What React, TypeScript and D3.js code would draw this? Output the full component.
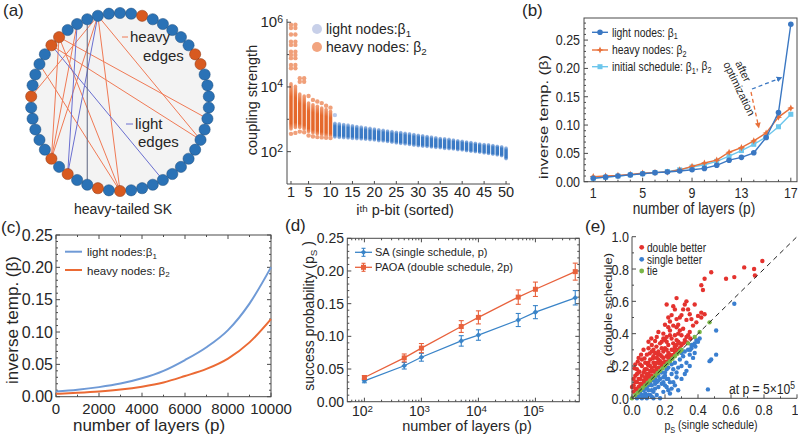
import React from "react";
import * as d3 from "d3";

const FONT = "'Liberation Sans', Arial, Helvetica, sans-serif";
const INK = "#262626";
const AXIS = "#4a4a4a";

// ---------- (a) heavy-tailed SK graph ----------
const NODE_COUNT = 50;
const heavyNodes = [2, 8, 9, 25, 27, 30, 32, 38, 43, 44];
const heavyEdges: [number, number][] = [
  [48, 38], [48, 32], [48, 25], [48, 16], [44, 32], [44, 25], [44, 14], [43, 16], [41, 25], [46, 32],
];
const lightEdges: [number, number][] = [[46, 30], [48, 30], [43, 21]];
const neutralEdges: [number, number][] = [[47, 28]];

// ---------- (a) coupling strength per p-bit (log10 of coupling) ----------
const lightPbits = [11, 12, 13, 14, 15, 16, 17, 18, 19, 20, 21, 22, 23, 24, 25, 26, 27, 28, 29, 30,
  31, 32, 33, 34, 35, 36, 37, 38, 39, 40, 41, 42, 43, 44, 45, 46, 47, 48, 49, 50];
const lightUpper = [2.88, 2.86, 2.84, 2.82, 2.80, 2.78, 2.76, 2.74, 2.72, 2.70, 2.68, 2.66, 2.64, 2.62, 2.60,
  2.59, 2.57, 2.55, 2.53, 2.51, 2.49, 2.47, 2.45, 2.43, 2.41, 2.40, 2.38, 2.36, 2.34, 2.32,
  2.30, 2.28, 2.26, 2.24, 2.22, 2.21, 2.19, 2.17, 2.15, 2.11];
const lightLower = [2.45, 2.44, 2.43, 2.42, 2.41, 2.40, 2.39, 2.38, 2.37, 2.36, 2.34, 2.33, 2.31, 2.29, 2.27,
  2.25, 2.24, 2.22, 2.20, 2.18, 2.17, 2.16, 2.14, 2.13, 2.12, 2.10, 2.09, 2.08, 2.06, 2.05,
  2.03, 2.01, 2.00, 1.98, 1.96, 1.94, 1.92, 1.90, 1.87, 1.78];
const lightOutliers: [number, number][] = [[11, 3.13]];
const heavyPbits = [1, 2, 3, 4, 5, 6, 7, 8, 9, 10];
const heavyUpper = [4.10, 4.02, 3.78, 3.72, 3.50, 3.45, 3.40, 3.35, 3.30, 3.25];
const heavyLower = [2.70, 2.75, 2.75, 2.70, 2.62, 2.58, 2.55, 2.52, 2.50, 2.48];
const heavyOutliers: number[][] = [
  [5.92, 5.82, 5.62, 5.40, 5.30, 5.09, 4.99, 4.89, 4.68, 4.58, 2.55],
  [5.92, 5.82, 5.62, 5.40, 5.30, 5.09, 4.99, 4.89, 4.68, 4.58, 2.58],
  [4.27, 4.16, 2.62],
  [4.27, 4.16, 2.60],
  [3.72, 2.50],
  [3.60, 2.47],
  [3.55, 2.45],
  [3.50, 2.44],
  [3.42, 2.43],
  [3.36, 2.42],
];

// ---------- (b) optimized schedules ----------
const layersB = [1, 2, 3, 4, 5, 6, 7, 8, 9, 10, 11, 12, 13, 14, 15, 16, 17];
const beta1Opt = [0.006, 0.008, 0.010, 0.012, 0.014, 0.016, 0.017, 0.019, 0.021, 0.0235, 0.029, 0.038, 0.043, 0.051, 0.078, 0.122, 0.278];
const beta2Opt = [0.009, 0.010, 0.011, 0.013, 0.015, 0.016, 0.017, 0.021, 0.027, 0.033, 0.038, 0.052, 0.060, 0.072, 0.086, 0.114, 0.130];
const betaInit = [0.006, 0.008, 0.010, 0.012, 0.014, 0.016, 0.018, 0.021, 0.026, 0.030, 0.036, 0.045, 0.055, 0.066, 0.079, 0.097, 0.119];

// ---------- (c) extended schedules ----------
const layersC = [0, 1000, 2000, 3000, 4000, 5000, 6000, 7000, 8000, 9000, 10000];
const beta1Ext = [0.008, 0.0108, 0.0148, 0.0203, 0.0284, 0.040, 0.0567, 0.0765, 0.103, 0.144, 0.200];
const beta2Ext = [0.0045, 0.006, 0.008, 0.011, 0.0155, 0.022, 0.032, 0.043, 0.059, 0.084, 0.120];

// ---------- (d) success probability ----------
const layersD = [100, 500, 1000, 5000, 10000, 50000, 100000, 500000];
const saMean = [0.032, 0.055, 0.068, 0.093, 0.102, 0.125, 0.137, 0.159];
const saErr = [0.003, 0.005, 0.006, 0.008, 0.008, 0.010, 0.010, 0.011];
const paoaMean = [0.037, 0.067, 0.082, 0.115, 0.129, 0.160, 0.172, 0.199];
const paoaErr = [0.003, 0.006, 0.007, 0.009, 0.010, 0.011, 0.011, 0.013];

// ---------- (e) per-instance comparison ----------
const doubleBetter: [number, number][] = [
  [0.79, 0.85], [0.74, 0.80], [0.68, 0.81], [0.745, 0.76], [0.62, 0.75], [0.57, 0.74], [0.48, 0.78], [0.44, 0.74], [0.42, 0.70], [0.43, 0.67],
  [0.27, 0.62], [0.21, 0.58], [0.32, 0.58], [0.38, 0.58], [0.42, 0.53], [0.42, 0.50], [0.35, 0.52], [0.33, 0.485], [0.31, 0.55], [0.30, 0.515],
  [0.28, 0.455], [0.26, 0.55], [0.24, 0.515], [0.23, 0.475], [0.20, 0.455], [0.29, 0.50], [0.36, 0.49], [0.39, 0.47], [0.37, 0.45], [0.25, 0.57],
  [0.33, 0.60], [0.40, 0.51], [0.44, 0.52], [0.22, 0.50], [0.27, 0.49], [0.34, 0.55],
  [0.29, 0.42], [0.30, 0.39], [0.26, 0.39], [0.24, 0.37], [0.21, 0.38], [0.18, 0.35], [0.14, 0.355], [0.117, 0.37], [0.148, 0.32], [0.18, 0.31],
  [0.22, 0.33], [0.25, 0.34], [0.28, 0.35], [0.32, 0.36], [0.353, 0.37], [0.333, 0.345], [0.19, 0.40], [0.16, 0.41], [0.23, 0.42], [0.27, 0.44],
  [0.20, 0.36], [0.24, 0.30], [0.30, 0.33], [0.26, 0.31], [0.12, 0.33], [0.10, 0.35], [0.15, 0.38], [0.28, 0.40], [0.31, 0.43], [0.35, 0.41],
  [0.22, 0.44], [0.25, 0.45], [0.34, 0.39], [0.13, 0.30], [0.17, 0.34], [0.21, 0.35], [0.27, 0.36], [0.29, 0.34], [0.23, 0.39], [0.19, 0.37],
  [0.055, 0.27], [0.035, 0.227], [0.076, 0.247], [0.107, 0.278], [0.127, 0.247], [0.158, 0.27], [0.19, 0.29], [0.22, 0.28], [0.097, 0.206], [0.138, 0.196],
  [0.168, 0.216], [0.20, 0.227], [0.23, 0.237], [0.25, 0.268], [0.015, 0.186], [0.045, 0.165], [0.076, 0.175], [0.117, 0.165], [0.15, 0.18], [0.18, 0.20],
  [0.21, 0.225], [0.26, 0.29], [0.28, 0.30], [0.24, 0.26], [0.02, 0.14], [0.04, 0.12], [0.06, 0.14], [0.08, 0.13], [0.10, 0.15], [0.12, 0.14],
  [0.14, 0.16], [0.16, 0.19], [0.03, 0.10], [0.05, 0.09], [0.07, 0.11], [0.09, 0.12], [0.01, 0.08], [0.02, 0.06], [0.04, 0.07], [0.06, 0.08],
  [0.00, 0.07], [0.01, 0.04], [0.03, 0.05], [0.05, 0.065], [0.08, 0.10], [0.11, 0.125], [0.13, 0.17], [0.17, 0.23], [0.19, 0.25], [0.21, 0.26],
  [0.06, 0.20], [0.08, 0.22], [0.11, 0.24], [0.13, 0.22], [0.15, 0.25], [0.03, 0.18], [0.05, 0.21], [0.09, 0.27], [0.12, 0.29], [0.07, 0.30],
  [0.10, 0.31], [0.16, 0.29], [0.18, 0.26], [0.14, 0.28], [0.20, 0.31], [0.22, 0.25], [0.26, 0.32], [0.04, 0.25], [0.02, 0.21], [0.09, 0.18],
  [0.11, 0.20], [0.07, 0.16], [0.01, 0.12], [0.03, 0.15], [0.10, 0.13], [0.12, 0.19], [0.14, 0.21], [0.16, 0.24], [0.18, 0.22], [0.05, 0.12],
  [0.07, 0.09], [0.09, 0.15], [0.11, 0.17], [0.13, 0.26], [0.15, 0.22], [0.17, 0.27], [0.19, 0.22], [0.21, 0.30], [0.23, 0.27], [0.25, 0.30],
  [0.27, 0.33], [0.29, 0.31], [0.31, 0.34], [0.33, 0.38], [0.02, 0.10], [0.04, 0.16], [0.06, 0.24], [0.08, 0.18], [0.10, 0.22],
];
const singleBetter: [number, number][] = [
  [0.62, 0.585], [0.51, 0.42], [0.51, 0.27], [0.48, 0.24], [0.47, 0.23], [0.46, 0.055], [0.37, 0.33], [0.36, 0.31], [0.35, 0.27], [0.38, 0.28],
  [0.37, 0.25], [0.33, 0.22], [0.32, 0.15], [0.30, 0.12], [0.27, 0.13], [0.25, 0.18], [0.28, 0.19], [0.29, 0.24], [0.30, 0.28], [0.26, 0.22],
  [0.22, 0.19], [0.20, 0.16], [0.24, 0.15], [0.23, 0.10], [0.21, 0.12], [0.19, 0.13], [0.17, 0.12], [0.15, 0.10], [0.14, 0.06], [0.12, 0.08],
  [0.10, 0.05], [0.09, 0.07], [0.08, 0.03], [0.07, 0.05], [0.06, 0.02], [0.05, 0.03], [0.04, 0.01], [0.11, 0.02], [0.13, 0.04], [0.16, 0.07],
  [0.18, 0.09], [0.20, 0.08], [0.22, 0.05], [0.25, 0.10], [0.19, 0.04], [0.12, 0.01], [0.09, 0.00], [0.06, 0.00], [0.03, 0.00], [0.15, 0.02],
  [0.17, 0.00], [0.14, 0.12], [0.16, 0.14], [0.18, 0.16], [0.11, 0.09], [0.13, 0.11], [0.21, 0.18], [0.24, 0.21], [0.27, 0.16], [0.26, 0.08],
  [0.23, 0.03], [0.28, 0.05], [0.31, 0.26], [0.34, 0.30], [0.36, 0.33], [0.38, 0.34], [0.39, 0.36], [0.40, 0.35], [0.33, 0.17], [0.35, 0.20],
  [0.08, 0.06], [0.10, 0.08], [0.07, 0.01], [0.30, 0.20], [0.32, 0.29], [0.41, 0.37], [0.384, 0.32], [0.353, 0.30], [0.12, 0.05], [0.14, 0.09],
  [0.16, 0.11], [0.19, 0.10], [0.21, 0.07], [0.10, 0.02], [0.08, 0.01], [0.13, 0.00], [0.20, 0.14], [0.22, 0.12], [0.24, 0.06],
];
const tieValues = [0, 0.02, 0.035, 0.05, 0.065, 0.08, 0.095, 0.11, 0.125, 0.14, 0.155, 0.17, 0.185, 0.20, 0.215,
  0.23, 0.245, 0.26, 0.275, 0.29, 0.30, 0.34, 0.38, 0.41, 0.47];

// ---------- small text helpers ----------
const Sub = ({ children }: { children: React.ReactNode }) => (
  <tspan dy="0.32em" fontSize="0.7em">{children}</tspan>
);
const Sup = ({ children }: { children: React.ReactNode }) => (
  <tspan dy="-0.45em" fontSize="0.7em">{children}</tspan>
);

// Text with a horizontal condensation factor (panels b and e use a narrow face)
function SText({ x, y, sx = 1, rot = 0, size, anchor = "start", children }: {
  x: number; y: number; sx?: number; rot?: number; size: number; anchor?: string; children: React.ReactNode;
}) {
  return (
    <text transform={`translate(${x},${y}) scale(${sx},1) rotate(${rot})`} fontSize={size}
      textAnchor={anchor} fill={INK}>{children}</text>
  );
}

function PanelTag({ x, y, t }: { x: number; y: number; t: string }) {
  return <text x={x} y={y} fontSize={17} fill={INK}>{t}</text>;
}

// ---------- (a) graph ----------
function GraphPanel() {
  const cx = 120, cy = 102, R = 89;
  const ang = d3.scaleLinear().domain([0, NODE_COUNT]).range([0, 2 * Math.PI]);
  const pos = (i: number): [number, number] => [cx + R * Math.sin(ang(i)), cy - R * Math.cos(ang(i))];
  const heavySet = new Set(heavyNodes);
  const edge = (e: [number, number], color: string, k: string) => {
    const [a, b] = [pos(e[0]), pos(e[1])];
    return <line key={k} x1={a[0]} y1={a[1]} x2={b[0]} y2={b[1]} stroke={color} strokeWidth={1} />;
  };
  return (
    <g>
      <circle cx={cx} cy={cy} r={R} fill="#f3f3f3" />
      {heavyEdges.map((e, i) => edge(e, "#f07a55", "h" + i))}
      {lightEdges.map((e, i) => edge(e, "#6a6fd0", "l" + i))}
      {neutralEdges.map((e, i) => edge(e, "#5d6580", "n" + i))}
      {d3.range(NODE_COUNT).map((i) => {
        const [x, y] = pos(i);
        const heavy = heavySet.has(i);
        return (
          <circle key={i} cx={x} cy={y} r={5.6} fill={heavy ? "#d85a20" : "#2a72b6"}
            stroke={heavy ? "#8a3510" : "#1a4a7a"} strokeWidth={0.5} />
        );
      })}
      <line x1={122} y1={37} x2={128} y2={37} stroke="#f07a55" strokeWidth={1} />
      <text x={130} y={42} fontSize={15} fill={INK}>heavy</text>
      <text x={143} y={61} fontSize={15} fill={INK}>edges</text>
      <line x1={126} y1={124} x2={133} y2={124} stroke="#6a6fd0" strokeWidth={1} />
      <text x={135} y={129} fontSize={15} fill={INK}>light</text>
      <text x={138} y={147} fontSize={15} fill={INK}>edges</text>
      <text x={123} y={214} fontSize={14} fill={INK} textAnchor="middle">heavy-tailed SK</text>
      <PanelTag x={3} y={16} t="(a)" />
    </g>
  );
}

// ---------- (a) coupling strengths ----------
function CouplingPanel() {
  const x = d3.scaleLinear().domain([0.09, 50.9]).range([287, 510]);
  const y = d3.scaleLog().domain([10, Math.pow(10, 6.1)]).range([184, 19]);
  const w = 3.5;
  const band = (p: number, lo: number, hi: number, grad: string, k: string) => {
    const top = y(Math.pow(10, hi)), bot = y(Math.pow(10, lo));
    return (
      <rect key={k} x={x(p) - w / 2} y={top - w / 2} width={w} height={bot - top + w} rx={w / 2}
        fill={`url(#${grad})`} />
    );
  };
  return (
    <g>
      <defs>
        <linearGradient id="gradLight" x1="0" y1="0" x2="0" y2="1">
          <stop offset="0" stopColor="#a9c2e8" />
          <stop offset="0.25" stopColor="#3d7cc6" />
          <stop offset="0.8" stopColor="#3878c4" />
          <stop offset="1" stopColor="#a9c2e8" />
        </linearGradient>
        <linearGradient id="gradHeavy" x1="0" y1="0" x2="0" y2="1">
          <stop offset="0" stopColor="#f2a27c" />
          <stop offset="0.3" stopColor="#e66a2e" />
          <stop offset="0.85" stopColor="#e4672b" />
          <stop offset="1" stopColor="#f2a27c" />
        </linearGradient>
      </defs>
      {heavyPbits.map((p, i) => band(p, heavyLower[i], heavyUpper[i], "gradHeavy", "hb" + i))}
      {heavyPbits.map((p, i) =>
        heavyOutliers[i].map((v, j) => (
          <circle key={`ho${i}-${j}`} cx={x(p)} cy={y(Math.pow(10, v))} r={2.2} fill="#f0a07a" />
        ))
      )}
      {lightPbits.map((p, i) => band(p, lightLower[i], lightUpper[i], "gradLight", "lb" + i))}
      {lightOutliers.map(([p, v], i) => (
        <circle key={"lo" + i} cx={x(p)} cy={y(Math.pow(10, v))} r={2.2} fill="#b7c8ea" />
      ))}
      <line x1={287} y1={19} x2={287} y2={184} stroke={AXIS} />
      <line x1={287} y1={184} x2={510} y2={184} stroke={AXIS} />
      {[1e2, 1e3, 1e4, 1e5, 1e6].map((v) => (
        <line key={"yt" + v} x1={287} x2={[1e2, 1e4, 1e6].includes(v) ? 291 : 289} y1={y(v)} y2={y(v)} stroke={AXIS} />
      ))}
      {[[1e2, "2"], [1e4, "4"], [1e6, "6"]].map(([v, e]) => (
        <text key={"yl" + e} x={283} y={y(v as number) + 5} fontSize={15} textAnchor="end" fill={INK}>
          10<Sup>{e as string}</Sup>
        </text>
      ))}
      {[1, 5, 10, 15, 20, 25, 30, 35, 40, 45, 50].map((v) => (
        <g key={"xt" + v}>
          <line x1={x(v)} x2={x(v)} y1={184} y2={181} stroke={AXIS} />
          <text x={x(v)} y={197} fontSize={14.5} textAnchor="middle" fill={INK}>{v}</text>
        </g>
      ))}
      <text transform="translate(257,100) rotate(-90)" fontSize={14.5} textAnchor="middle" fill={INK}>coupling strength</text>
      <text x={405} y={215} fontSize={14.5} textAnchor="middle" fill={INK}>
        i<tspan dy="-0.35em" fontSize="0.68em">th</tspan><tspan dy="0.24em"> p-bit (sorted)</tspan>
      </text>
      <circle cx={317} cy={29} r={5} fill="#c8d0e9" />
      <text x={326} y={34} fontSize={14} fill={INK}>light nodes:β<Sub>1</Sub></text>
      <circle cx={317} cy={47} r={5} fill="#f2a47f" />
      <text x={326} y={52} fontSize={14} fill={INK}>heavy nodes: β<Sub>2</Sub></text>
    </g>
  );
}

// ---------- markers ----------
function Marker({ kind, x, y, color }: { kind: string; x: number; y: number; color: string }) {
  if (kind === "circle") return <circle cx={x} cy={y} r={2.8} fill={color} />;
  if (kind === "square") return <rect x={x - 2.5} y={y - 2.5} width={5} height={5} fill={color} />;
  if (kind === "star") {
    const s = 3.6, t = 1.1;
    const d = `M${x},${y - s}L${x + t},${y - t}L${x + s},${y}L${x + t},${y + t}L${x},${y + s}L${x - t},${y + t}L${x - s},${y}L${x - t},${y - t}Z`;
    return <path d={d} fill={color} />;
  }
  if (kind === "diamond") {
    const s = 2.8;
    return <path d={`M${x},${y - s}L${x + s},${y}L${x},${y + s}L${x - s},${y}Z`} fill={color} />;
  }
  return null;
}

// ---------- (b) schedules ----------
function SchedulePanel() {
  const SX = 0.83;
  const x = d3.scaleLinear().domain([0.25, 17.5]).range([584, 797]);
  const y = d3.scaleLinear().domain([0, 0.289]).range([181.7, 18]);
  const line = d3.line<number>().x((_, i) => x(layersB[i])).y((d) => y(d));
  const series = [
    { vals: betaInit, color: "#6cc6ec", kind: "square" },
    { vals: beta2Opt, color: "#e8703a", kind: "star" },
    { vals: beta1Opt, color: "#3a77c2", kind: "circle" },
  ];
  const legend = [
    { color: "#3a77c2", kind: "circle", label: <>light nodes: β<Sub>1</Sub></>, yy: 32.3 },
    { color: "#e8703a", kind: "star", label: <>heavy nodes: β<Sub>2</Sub></>, yy: 50 },
    { color: "#6cc6ec", kind: "square", label: <>initial schedule: β<Sub>1</Sub><tspan dy="-0.32em">, β</tspan><Sub>2</Sub></>, yy: 66.7 },
  ];
  const yMajor = [0, 0.05, 0.1, 0.15, 0.2, 0.25];
  const yMinor = d3.range(0, 0.285, 0.01);
  const xMajor = [1, 5, 9, 13, 17];
  return (
    <g>
      <defs>
        <marker id="arrBlue" viewBox="0 0 10 10" refX="2" refY="5" markerWidth="4.5" markerHeight="4.5" orient="auto">
          <path d="M0,0L10,5L0,10Z" fill="#3a77c2" />
        </marker>
        <marker id="arrOrange" viewBox="0 0 10 10" refX="2" refY="5" markerWidth="4.5" markerHeight="4.5" orient="auto">
          <path d="M0,0L10,5L0,10Z" fill="#e8703a" />
        </marker>
      </defs>
      <rect x={584} y={18} width={213} height={163.7} fill="none" stroke={AXIS} />
      {yMinor.map((v) => (
        <line key={"ym" + v} x1={584} x2={yMajor.some((m) => Math.abs(m - v) < 1e-6) ? 588 : 586} y1={y(v)} y2={y(v)} stroke={AXIS} />
      ))}
      {layersB.map((v) => (
        <line key={"xm" + v} x1={x(v)} x2={x(v)} y1={181.7} y2={xMajor.includes(v) ? 177.7 : 179.7} stroke={AXIS} />
      ))}
      {yMajor.map((v) => (
        <SText key={"yl" + v} x={580} y={y(v) + 5} sx={SX} size={15} anchor="end">{v.toFixed(2)}</SText>
      ))}
      {xMajor.map((v) => (
        <SText key={"xl" + v} x={x(v)} y={198} sx={SX} size={15} anchor="middle">{v}</SText>
      ))}
      {series.map((s) => (
        <g key={s.color}>
          <path d={line(s.vals) || ""} fill="none" stroke={s.color} strokeWidth={1.4} />
          {s.vals.map((v, i) => <Marker key={i} kind={s.kind} x={x(layersB[i])} y={y(v)} color={s.color} />)}
        </g>
      ))}
      {legend.map((l) => (
        <g key={l.color}>
          <line x1={592} x2={608} y1={l.yy} y2={l.yy} stroke={l.color} strokeWidth={1.4} />
          <Marker kind={l.kind} x={600} y={l.yy} color={l.color} />
          <SText x={612} y={l.yy + 4.3} sx={SX} size={12.5}>{l.label}</SText>
        </g>
      ))}
      <text transform="translate(735,63) rotate(64)" fontSize={11} fill={INK}>after</text>
      <text transform="translate(723,64) rotate(64)" fontSize={11} fill={INK}>optimization</text>
      <path d="M752,89L778,79" stroke="#3a77c2" strokeWidth={1.3} strokeDasharray="4,3" fill="none" markerEnd="url(#arrBlue)" />
      <path d="M751,92L758,124" stroke="#e8703a" strokeWidth={1.3} strokeDasharray="4,3" fill="none" markerEnd="url(#arrOrange)" />
      <SText x={548} y={117} sx={SX} rot={-90} size={16.5} anchor="middle">inverse temp. (β)</SText>
      <SText x={694} y={214} sx={SX} size={16.5} anchor="middle">number of layers (p)</SText>
      <PanelTag x={522} y={16} t="(b)" />
    </g>
  );
}

// ---------- (c) extended schedules ----------
function ContinuousPanel() {
  const x = d3.scaleLinear().domain([0, 10000]).range([56, 271]);
  const y = d3.scaleLinear().domain([0, 0.25]).range([396.7, 235]);
  const line = d3.line<number>().x((_, i) => x(layersC[i])).y((d) => y(d)).curve(d3.curveMonotoneX);
  const yMajor = [0, 0.05, 0.1, 0.15, 0.2, 0.25];
  const yMinor = d3.range(0, 0.251, 0.01);
  const xMajor = [0, 2000, 4000, 6000, 8000, 10000];
  const xMinor = d3.range(0, 10001, 1000);
  const isMaj = (arr: number[], v: number) => arr.some((m) => Math.abs(m - v) < 1e-6);
  return (
    <g>
      <rect x={56} y={235} width={215} height={161.7} fill="none" stroke={AXIS} />
      {yMinor.map((v) => (
        <g key={"ym" + v}>
          <line x1={56} x2={isMaj(yMajor, v) ? 60 : 58} y1={y(v)} y2={y(v)} stroke={AXIS} />
          <line x1={271} x2={isMaj(yMajor, v) ? 267 : 269} y1={y(v)} y2={y(v)} stroke={AXIS} />
        </g>
      ))}
      {xMinor.map((v) => (
        <g key={"xm" + v}>
          <line x1={x(v)} x2={x(v)} y1={396.7} y2={isMaj(xMajor, v) ? 392.7 : 394.7} stroke={AXIS} />
          <line x1={x(v)} x2={x(v)} y1={235} y2={isMaj(xMajor, v) ? 239 : 237} stroke={AXIS} />
        </g>
      ))}
      {yMajor.map((v) => (
        <text key={"yl" + v} x={53} y={y(v) + 5.5} fontSize={16} textAnchor="end" fill={INK}>{v.toFixed(2)}</text>
      ))}
      {xMajor.map((v) => (
        <text key={"xl" + v} x={x(v)} y={414} fontSize={15} textAnchor="middle" fill={INK}>{v}</text>
      ))}
      <path d={line(beta1Ext) || ""} fill="none" stroke="#6f9ad6" strokeWidth={2} />
      <path d={line(beta2Ext) || ""} fill="none" stroke="#eb6a34" strokeWidth={2} />
      <line x1={65} x2={82} y1={251.7} y2={251.7} stroke="#6f9ad6" strokeWidth={2} />
      <text x={87} y={256} fontSize={11.5} fill={INK}>light nodes:β<Sub>1</Sub></text>
      <line x1={65} x2={82} y1={270} y2={270} stroke="#eb6a34" strokeWidth={2} />
      <text x={87} y={274.5} fontSize={11.5} fill={INK}>heavy nodes: β<Sub>2</Sub></text>
      <text transform="translate(18,320) rotate(-90)" fontSize={17} textAnchor="middle" fill={INK}>inverse temp. (β)</text>
      <text x={149} y={431} fontSize={17} textAnchor="middle" fill={INK}>number of layers (p)</text>
      <PanelTag x={1} y={233} t="(c)" />
    </g>
  );
}

// ---------- (d) success probability ----------
function SuccessPanel() {
  const x = d3.scaleLog().domain([Math.pow(10, 1.70), Math.pow(10, 5.77)]).range([347.3, 579.3]);
  const y = d3.scaleLinear().domain([0, 0.25]).range([401.7, 238.3]);
  const top = 238.3, bot = 401.7, left = 347.3, right = 579.3;
  const line = d3.line<number>().x((_, i) => x(layersD[i])).y((d) => y(d));
  const yMajor = [0, 0.05, 0.1, 0.15, 0.2, 0.25];
  const yMinor = d3.range(0, 0.251, 0.01);
  const isMaj = (v: number) => yMajor.some((m) => Math.abs(m - v) < 1e-6);
  const xMinor: number[] = [];
  [10, 100, 1000, 10000, 100000].forEach((b) => [2, 3, 4, 5, 6, 7, 8, 9].forEach((k) => {
    const v = b * k;
    if (v > Math.pow(10, 1.70) && v < Math.pow(10, 5.77)) xMinor.push(v);
  }));
  const xMajor = [[100, "2"], [1000, "3"], [10000, "4"], [100000, "5"]] as [number, string][];
  const series = [
    { mean: saMean, err: saErr, color: "#3a84c8", kind: "diamond" },
    { mean: paoaMean, err: paoaErr, color: "#e8613c", kind: "square" },
  ];
  return (
    <g>
      <rect x={left} y={top} width={right - left} height={bot - top} fill="none" stroke={AXIS} />
      {yMinor.map((v) => (
        <g key={"ym" + v}>
          <line x1={left} x2={left + (isMaj(v) ? 4 : 2)} y1={y(v)} y2={y(v)} stroke={AXIS} />
          <line x1={right} x2={right - (isMaj(v) ? 4 : 2)} y1={y(v)} y2={y(v)} stroke={AXIS} />
        </g>
      ))}
      {xMinor.map((v) => (
        <g key={"xm" + v}>
          <line x1={x(v)} x2={x(v)} y1={bot} y2={bot - 2} stroke={AXIS} />
          <line x1={x(v)} x2={x(v)} y1={top} y2={top + 2} stroke={AXIS} />
        </g>
      ))}
      {xMajor.map(([v, e]) => (
        <g key={"xM" + v}>
          <line x1={x(v)} x2={x(v)} y1={bot} y2={bot - 4} stroke={AXIS} />
          <line x1={x(v)} x2={x(v)} y1={top} y2={top + 4} stroke={AXIS} />
          <text x={x(v) - 2} y={416} fontSize={14} textAnchor="middle" fill={INK}>10<Sup>{e}</Sup></text>
        </g>
      ))}
      {yMajor.map((v) => (
        <text key={"yl" + v} x={344} y={y(v) + 5} fontSize={14} textAnchor="end" fill={INK}>{v.toFixed(2)}</text>
      ))}
      {series.map((s) => (
        <g key={s.color}>
          <path d={line(s.mean) || ""} fill="none" stroke={s.color} strokeWidth={1.3} />
          {s.mean.map((m, i) => {
            const cx = x(layersD[i]);
            return (
              <g key={i} stroke={s.color} strokeWidth={1.1}>
                <line x1={cx} x2={cx} y1={y(m - s.err[i])} y2={y(m + s.err[i])} />
                <line x1={cx - 2.5} x2={cx + 2.5} y1={y(m - s.err[i])} y2={y(m - s.err[i])} />
                <line x1={cx - 2.5} x2={cx + 2.5} y1={y(m + s.err[i])} y2={y(m + s.err[i])} />
              </g>
            );
          })}
          {s.mean.map((m, i) => <Marker key={"m" + i} kind={s.kind} x={x(layersD[i])} y={y(m)} color={s.color} />)}
        </g>
      ))}
      {[
        { c: "#3a84c8", k: "diamond", yy: 252.3, label: "SA (single schedule, p)" },
        { c: "#e8613c", k: "square", yy: 267.3, label: "PAOA (double schedule, 2p)" },
      ].map((l) => (
        <g key={l.c}>
          <line x1={355} x2={372} y1={l.yy} y2={l.yy} stroke={l.c} strokeWidth={1.3} />
          <g stroke={l.c} strokeWidth={1.1}>
            <line x1={363.5} x2={363.5} y1={l.yy - 4} y2={l.yy + 4} />
            <line x1={361.5} x2={365.5} y1={l.yy - 4} y2={l.yy - 4} />
            <line x1={361.5} x2={365.5} y1={l.yy + 4} y2={l.yy + 4} />
          </g>
          <Marker kind={l.k} x={363.5} y={l.yy} color={l.c} />
          <text x={375} y={l.yy + 4} fontSize={11} fill={INK}>{l.label}</text>
        </g>
      ))}
      <text transform="translate(314,316) rotate(-90)" fontSize={14} textAnchor="middle" fill={INK}>
        success probability (p<Sub>S</Sub><tspan dy="-0.32em"> )</tspan>
      </text>
      <text x={467} y={431} fontSize={14.5} textAnchor="middle" fill={INK}>number of layers (p)</text>
      <PanelTag x={285} y={231} t="(d)" />
    </g>
  );
}

// ---------- (e) per-instance comparison ----------
function ComparePanel() {
  const SX = 0.81;
  const x = d3.scaleLinear().domain([0, 1]).range([632, 797]);
  const y = d3.scaleLinear().domain([0, 1]).range([398.3, 236.7]);
  const major = [0, 0.2, 0.4, 0.6, 0.8, 1];
  const minor = d3.range(0, 1.01, 0.1);
  const isMaj = (v: number) => major.some((m) => Math.abs(m - v) < 1e-6);
  const fmtX = (v: number) => (v === 1 ? "1" : v.toFixed(1));
  return (
    <g>
      {doubleBetter.map(([a, b], i) => <circle key={"r" + i} cx={x(a)} cy={y(b)} r={2.2} fill="#e4322e" />)}
      {singleBetter.map(([a, b], i) => <circle key={"b" + i} cx={x(a)} cy={y(b)} r={2.2} fill="#3a7fd0" />)}
      {tieValues.map((v, i) => <circle key={"g" + i} cx={x(v)} cy={y(v)} r={2.2} fill="#7ab648" />)}
      <line x1={x(0)} y1={y(0)} x2={x(1)} y2={y(1)} stroke="#222" strokeWidth={1} strokeDasharray="5,4" />
      <line x1={632} y1={236.7} x2={632} y2={398.3} stroke={AXIS} />
      <line x1={632} y1={398.3} x2={797} y2={398.3} stroke={AXIS} />
      {minor.map((v) => (
        <g key={"t" + v}>
          <line x1={632} x2={632 + (isMaj(v) ? 4 : 2)} y1={y(v)} y2={y(v)} stroke={AXIS} />
          <line x1={x(v)} x2={x(v)} y1={398.3} y2={398.3 - (isMaj(v) ? 4 : 2)} stroke={AXIS} />
        </g>
      ))}
      {major.map((v) => (
        <g key={"l" + v}>
          <SText x={629} y={y(v) + 5.5} sx={SX} size={15.5} anchor="end">{v.toFixed(1)}</SText>
          <SText x={v === 1 ? 795 : x(v)} y={415} sx={SX} size={15.5} anchor="middle">{fmtX(v)}</SText>
        </g>
      ))}
      {[
        { c: "#e4322e", yy: 247.3, t: "double better" },
        { c: "#3a7fd0", yy: 259.3, t: "single better" },
        { c: "#7ab648", yy: 271, t: "tie" },
      ].map((l) => (
        <g key={l.t}>
          <circle cx={641.7} cy={l.yy} r={2.4} fill={l.c} />
          <SText x={647} y={l.yy + 4.2} sx={SX} size={12.5}>{l.t}</SText>
        </g>
      ))}
      <SText x={795} y={394} sx={SX} size={15} anchor="end">at p = 5×10<Sup>5</Sup></SText>
      <SText x={613} y={313} sx={SX} rot={-90} size={13} anchor="middle">
        p<Sub>S</Sub><tspan dy="-0.32em"> (double schedule)</tspan>
      </SText>
      <SText x={711} y={430} sx={SX} size={13} anchor="middle">
        p<Sub>S</Sub><tspan dy="-0.32em"> (single schedule)</tspan>
      </SText>
      <PanelTag x={585} y={232} t="(e)" />
    </g>
  );
}

export default function App() {
  return (
    <svg width={798} height={438} viewBox="0 0 798 438" fontFamily={FONT}
      style={{ position: "absolute", left: 0, top: 0, background: "#fff" }}>
      <rect width={798} height={438} fill="#fff" />
      <GraphPanel />
      <CouplingPanel />
      <SchedulePanel />
      <ContinuousPanel />
      <SuccessPanel />
      <ComparePanel />
    </svg>
  );
}
